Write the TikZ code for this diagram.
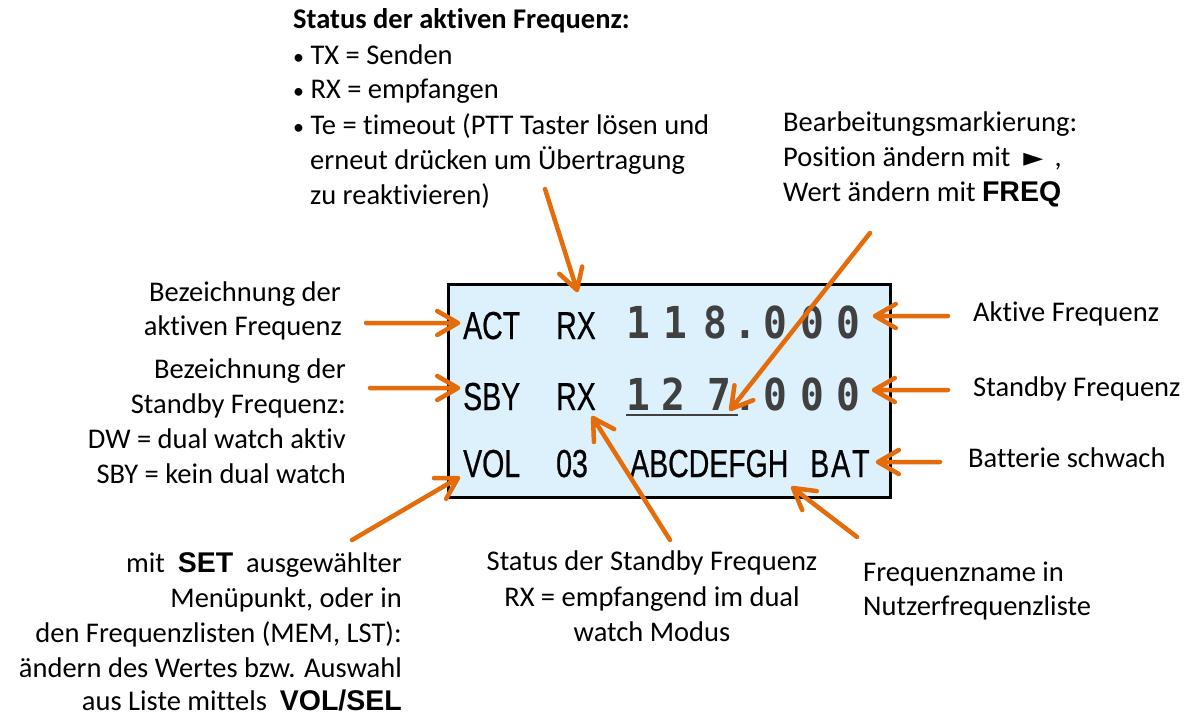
\documentclass[tikz,border=0pt]{standalone}
\usepackage{fontspec}
\setmainfont{Carlito}[Ligatures=NoCommon]
\newfontfamily\lcdfont[FakeStretch=0.73,FakeBold=0.6]{Liberation Sans}
\newfontfamily\digfont[FakeStretch=0.9]{DejaVu Sans Mono}
\newfontfamily\keyfont{Liberation Sans}
\newfontfamily\symfont{DejaVu Sans}
\usetikzlibrary{calc}
\definecolor{arr}{HTML}{E46C0A}
\definecolor{lcdbg}{HTML}{DDF1FD}
\definecolor{diggray}{HTML}{404040}
\newcommand{\kw}[1]{{\keyfont\bfseries #1}}
\newcommand{\bul}{{\fontsize{22}{22}\selectfont•}}
\begin{document}
\begin{tikzpicture}[x=1pt,y=-1pt,
  lbl/.style={inner sep=0pt, font=\fontsize{28.5}{35}\selectfont},
  lbw/.style={lbl, anchor=base west},
  lbe/.style={lbl, anchor=base east},
  lbc/.style={lbl, anchor=base},
  lcdtxt/.style={inner sep=0pt, anchor=base west, font=\lcdfont\fontsize{39}{39}\selectfont},
  digit/.style={inner sep=0pt, anchor=base, text=diggray, font=\digfont\bfseries\fontsize{44}{44}\selectfont},
  pointer/.style={draw=arr, line width=4.5pt, line cap=round, line join=round},
]
\useasboundingbox (0,0) rectangle (1191,717);

% display
\node (lcd) [draw=black, line width=3pt, fill=lcdbg, minimum width=442pt, minimum height=213pt, inner sep=0pt, anchor=north west] at (447,283) {};

\node (act) [lcdtxt] at (463,339) {ACT};
\node (rx1) [lcdtxt] at (556,339) {RX};
\node (sby) [lcdtxt] at (463,410) {SBY};
\node (rx2) [lcdtxt] at (556,410) {RX};
\node (vol) [lcdtxt] at (463,477) {VOL};
\node (v03) [lcdtxt] at (556,477) {03};
\node (fname) [lcdtxt] at (630,477) {ABCDEFGH};
\node (bat) [lcdtxt] at (810,477) {B\kern2pt A\kern2pt T};

\node (d11) [digit] at (638,338) {1};
\node (d12) [digit] at (675,338) {1};
\node (d13) [digit] at (715,338) {8};
\node (d14) [digit] at (745,338) {.};
\node (d15) [digit] at (775,338) {0};
\node (d16) [digit] at (812,338) {0};
\node (d17) [digit] at (848,338) {0};

\node (d21) [digit] at (638,410) {1};
\node (d22) [digit] at (673,410) {2};
\node (d23) [digit] at (719,410) {7};
\node (d24) [digit] at (745,410) {.};
\node (d25) [digit] at (775,410) {0};
\node (d26) [digit] at (812,410) {0};
\node (d27) [digit] at (848,410) {0};

\coordinate (ul1) at (626,415);
\coordinate (ul2) at (738,415);
\draw[diggray, line width=2pt] (ul1) -- (ul2);

% top text
\node (t1) [lbw, font=\bfseries\fontsize{28.5}{35}\selectfont] at (293,29) {Status der aktiven Frequenz:};
\node (t2) [lbw] at (293,64) {\bul\ TX = Senden};
\node (t3) [lbw] at (293,99) {\bul\ RX = empfangen};
\node (t4) [lbw] at (293,134) {\bul\ Te = timeout (PTT Taster lösen und};
\node (t5) [lbw] at (310,169) {erneut drücken um Übertragung};
\node (t6) [lbw] at (310,204) {zu reaktivieren)};

% top right text
\node (b1) [lbw] at (783,131) {Bearbeitungsmarkierung:};
\node (b2) [lbw] at (783,166) {Position ändern mit \ {\symfont\fontsize{26}{26}\selectfont ►} \,,};
\node (b3) [lbw] at (783,201) {Wert ändern mit \kw{FREQ}};

% left texts
\node (l1) [lbe] at (341,301) {Bezeichnung der};
\node (l2) [lbe] at (342,335) {aktiven Frequenz};
\node (l3) [lbe] at (346,378) {Bezeichnung der};
\node (l4) [lbe] at (346,413) {Standby Frequenz:};
\node (l5) [lbe] at (346,448) {DW = dual watch aktiv};
\node (l6) [lbe] at (346,483) {SBY = kein dual watch};

% bottom left
\node (m1) [lbe] at (402,572) {mit \ \kw{SET} \ ausgewählter};
\node (m2) [lbe] at (402,607) {Menüpunkt, oder in};
\node (m3) [lbe] at (402,642) {den Frequenzlisten (MEM, LST):};
\node (m4) [lbe] at (402,677) {ändern des Wertes bzw. Auswahl};
\node (m5) [lbe] at (402,710) {aus Liste mittels \ \kw{VOL/SEL}};

% bottom center
\node (s1) [lbc] at (652,570) {Status der Standby Frequenz};
\node (s2) [lbc] at (652,606) {RX = empfangend im dual};
\node (s3) [lbc] at (652,641) {watch Modus};

% bottom right
\node (n1) [lbw] at (863,581) {Frequenzname in};
\node (n2) [lbw] at (863,615) {Nutzerfrequenzliste};

% right labels
\node (r1) [lbw] at (973,321) {Aktive Frequenz};
\node (r2) [lbw] at (973,396) {Standby Frequenz};
\node (r3) [lbw] at (968,467) {Batterie schwach};

% arrows
\coordinate (a1s) at (545,189); \coordinate (a1e) at (577,290);
\coordinate (a2s) at (870,233); \coordinate (a2e) at (731,409);
\coordinate (a3s) at (366,323); \coordinate (a3e) at (458,323);
\coordinate (a4s) at (370,388); \coordinate (a4e) at (458,388);
\coordinate (a5s) at (352,540); \coordinate (a5e) at (458,478);
\coordinate (a6s) at (948,316); \coordinate (a6e) at (875,316);
\coordinate (a7s) at (948,390); \coordinate (a7e) at (874,390);
\coordinate (a8s) at (940,462); \coordinate (a8e) at (878,462);
\coordinate (a9s) at (670,540); \coordinate (a9e) at (593,418);
\coordinate (a10s) at (857,537); \coordinate (a10e) at (793,488);
\foreach \i in {1,...,10} {
  \draw[pointer] (a\i s) -- (a\i e)
    ($(a\i e)!24pt!30:(a\i s)$) -- (a\i e) -- ($(a\i e)!24pt!-30:(a\i s)$);
}
\end{tikzpicture}
\end{document}
